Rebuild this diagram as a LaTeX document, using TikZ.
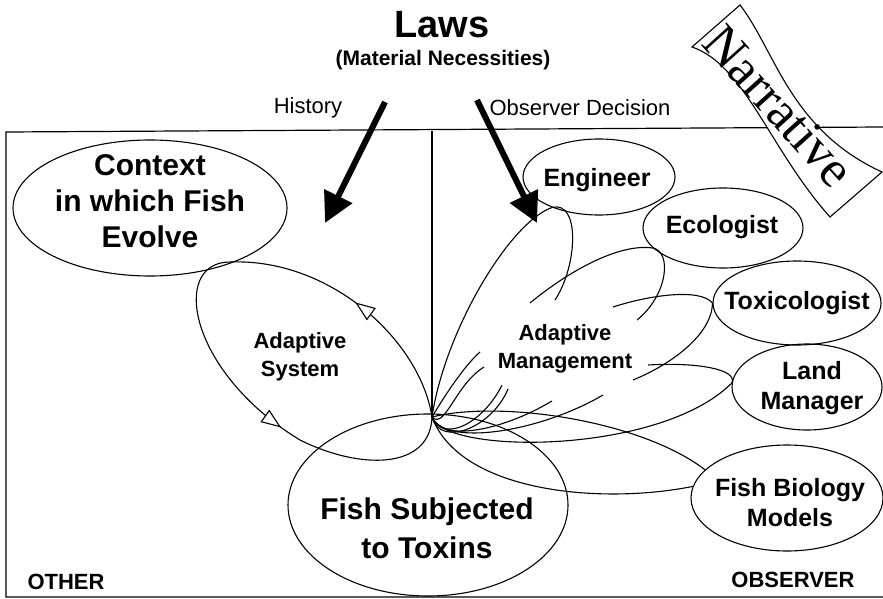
\documentclass[tikz,border=0pt]{standalone}
\usepackage{fontspec}
\setmainfont{Liberation Sans}
\newfontfamily\narrfont{Liberation Serif}
\usetikzlibrary{shapes.geometric,arrows.meta,decorations.markings}
\tikzset{opentri/.tip={Triangle[open,fill=white,length=20pt,width=15pt]}}
\begin{document}
\begin{tikzpicture}[x=1pt,y=-1pt,
  curve/.style={line width=1.1pt},
  oval/.style={draw, ellipse, line width=1.1pt, inner sep=0pt},
  lbl/.style={font=\bfseries\fontsize{25}{30}\selectfont, align=center, inner sep=0pt},
  big/.style={font=\bfseries\fontsize{30}{36}\selectfont, align=center, inner sep=0pt},
  mid/.style={font=\bfseries\fontsize{22}{28}\selectfont, align=center, inner sep=0pt},
  regtext/.style={font=\fontsize{22}{26}\selectfont, inner sep=0pt},
  bigarrow/.style={line width=6pt, -{Triangle[length=30pt,width=30pt]}}
]
\useasboundingbox (0,0) rectangle (883,599);

% frame
\coordinate (hub) at (432,417);
\draw[line width=1.2pt] (883,127) -- (6,132) -- (6,597) -- (883,597);
\draw[line width=1.2pt] (432,131) -- (hub);

% titles
\node[font=\bfseries\fontsize{38}{44}\selectfont, inner sep=0pt] (laws) at (442,25) {Laws};
\node[font=\bfseries\fontsize{21}{25}\selectfont, inner sep=0pt] (matnec) at (443,60) {(Material Necessities)};
\node[regtext] (hist) at (308,108) {History};
\node[regtext] (obsdec) at (580,108) {Observer Decision};
\node[font=\bfseries\fontsize{22}{26}\selectfont, inner sep=0pt] (other) at (66,582) {OTHER};
\node[font=\bfseries\fontsize{22}{26}\selectfont, inner sep=0pt] (observer) at (793,580) {OBSERVER};

% narrative ribbon
\draw[curve, fill=white] (740,5) .. controls (775,50) and (790,130) .. (882,172) -- (830,217)
   .. controls (770,150) and (745,65) .. (692,47) -- cycle;
\node[rotate=-48, font=\narrfont\fontsize{52}{52}\selectfont, inner sep=0pt] (narr) at (779,106) {Narrative};

% ellipses
\node[oval, minimum width=274pt, minimum height=136pt] (ctx) at (150,208) {};
\node[big] (ctxt) at (150,201) {Context\\in which Fish\\Evolve};
\node[oval, minimum width=280pt, minimum height=182pt] (fst) at (428,505) {};
\node[font=\bfseries\fontsize{30}{39}\selectfont, align=center, inner sep=0pt] (fstt) at (427,528) {Fish Subjected\\to Toxins};
\node[oval, minimum width=152pt, minimum height=76pt] (eng) at (599,177) {};
\node[lbl] (engt) at (597,180) {Engineer};
\node[oval, minimum width=160pt, minimum height=80pt] (eco) at (723,228) {};
\node[lbl] (ecot) at (722,227) {Ecologist};
\node[oval, minimum width=168pt, minimum height=84pt] (tox) at (797,303) {};
\node[lbl] (toxt) at (797,303) {Toxicologist};
\node[oval, minimum width=150pt, minimum height=86pt] (lm) at (807,387) {};
\node[lbl] (lmt) at (812,388) {Land\\Manager};
\node[oval, minimum width=192pt, minimum height=106pt] (fbm) at (787,498) {};
\node[lbl] (fbmt) at (790,503) {Fish Biology\\Models};

\node[mid] (adsys) at (300,357) {Adaptive\\System};
\node[mid] (adman) at (565,349) {Adaptive\\Management};

% adaptive system loop
\draw[curve, postaction={decorate}, decoration={markings,
   mark=at position 0.21 with {\arrow{opentri}},
   mark=at position 0.73 with {\arrow{opentri}}}]
  (hub) .. controls (420,340) and (330,258) .. (230,262)
        .. controls (170,262) and (188,372) .. (300,440)
        .. controls (360,470) and (430,470) .. (hub);

% big arrows
\coordinate (histtail) at (385,102); \coordinate (histtip) at (325,223);
\coordinate (obstail) at (477,100); \coordinate (obstip) at (537,223);
\draw[bigarrow] (histtail) -- (histtip);
\draw[bigarrow] (obstail) -- (obstip);

% adaptive management petals
\coordinate (engend) at (555,300);
\draw[curve] (hub) .. controls (445,330) and (510,222) .. (eng.213) .. controls (580,200) and (578,265) .. (engend);
\coordinate (ecoA) at (530,303); \coordinate (ecoB) at (637,320);
\draw[curve] (ecoA) .. controls (570,270) and (620,243) .. (eco.196) .. controls (672,252) and (668,295) .. (ecoB);
\coordinate (toxA) at (613,307); \coordinate (toxB) at (633,380);
\draw[curve] (toxA) .. controls (650,295) and (700,288) .. (tox.180) .. controls (712,335) and (670,365) .. (toxB);
\coordinate (lmA) at (648,365);
\draw[curve] (hub) .. controls (445,455) and (660,455) .. (lm.177) .. controls (738,370) and (700,362) .. (lmA);
\draw[curve] (hub) .. controls (500,400) and (640,420) .. (fbm.161);
\draw[curve] (fbm.173) .. controls (600,505) and (460,492) .. (hub);

% free strands from hub
\coordinate (sa) at (480,352);
\coordinate (sb) at (484,367);
\coordinate (sc) at (502,385);
\coordinate (sd) at (508,389);
\coordinate (se) at (552,401);
\coordinate (sf) at (603,395);
\draw[curve] (hub) .. controls (445,395) and (465,365) .. (sa);
\draw[curve] (hub) .. controls (445,430) and (455,385) .. (sb);
\draw[curve] (hub) .. controls (445,445) and (485,420) .. (sc);
\draw[curve] (hub) .. controls (440,448) and (492,428) .. (sd);
\draw[curve] (hub) .. controls (440,442) and (500,432) .. (se);
\draw[curve] (hub) .. controls (445,447) and (540,432) .. (sf);
\end{tikzpicture}
\end{document}
